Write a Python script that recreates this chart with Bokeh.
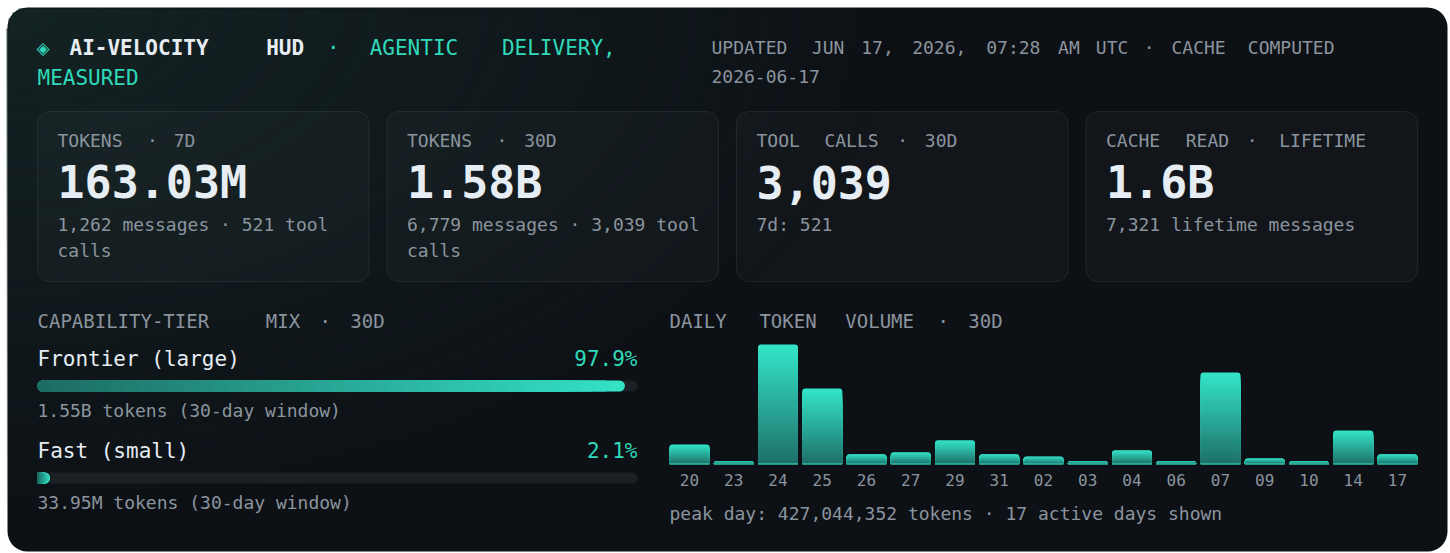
import numpy as np
from bokeh.plotting import figure
from bokeh.models import Range1d, ColumnDataSource
from bokeh.embed import file_html
from bokeh.resources import INLINE
from bokeh.core.properties import value

W, H = 1450, 553

# ---------------- data ----------------
days = ["20", "23", "24", "25", "26", "27", "29", "31", "02", "03", "04", "06", "07", "09", "10", "14", "17"]
day_tokens = [70_000_000, 11_000_000, 427_044_352, 270_000_000, 35_000_000, 42_000_000, 85_000_000,
              35_000_000, 27_000_000, 11_000_000, 49_000_000, 11_000_000, 327_000_000, 20_000_000,
              10_000_000, 120_000_000, 35_000_000]

tier_names = ["Frontier (large)", "Fast (small)"]
tier_pct = [97.9, 2.1]
tier_tokens = ["1.55B", "33.95M"]

kpi_labels = ["TOKENS · 7D", "TOKENS · 30D", "TOOL CALLS · 30D", "CACHE READ · LIFETIME"]
kpi_values = ["163.03M", "1.58B", "3,039", "1.6B"]
kpi_notes = [["1,262 messages · 521 tool", "calls"],
             ["6,779 messages · 3,039 tool", "calls"],
             ["7d: 521"],
             ["7,321 lifetime messages"]]

title_main = "AI-VELOCITY HUD"
title_tail = "· AGENTIC DELIVERY,"
title_wrap = "MEASURED"
updated_line1 = "UPDATED JUN 17, 2026, 07:28 AM UTC · CACHE COMPUTED"
updated_line2 = "2026-06-17"
section_left = "CAPABILITY-TIER MIX · 30D"
section_right = "DAILY TOKEN VOLUME · 30D"

# ---------------- style ----------------
MONO = "DejaVu Sans Mono"
BASE = "#0d1116"
TEAL = "#2fd9b9"
WHITE = "#e6edf3"
GRAY = "#8b949e"
TRACK = "#1b2025"
ADV = 0.602  # advance of DejaVu Sans Mono in em


def Y(t):
    return H - t


p = figure(width=W, height=H, x_range=Range1d(0, W), y_range=Range1d(0, H),
           output_backend="svg", toolbar_location=None, min_border=0,
           x_axis_location=None, y_axis_location=None,
           background_fill_color="white", border_fill_color="white", outline_line_color=None)
p.grid.visible = False

# ---------------- card background ----------------
p.quad(left=7, right=1447, top=Y(7), bottom=Y(551), border_radius=20, fill_color=BASE, line_color=None)

w2, h2 = W // 2, (H + 1) // 2
xs = (np.arange(w2) + 0.5) * W / w2
ys = H - (np.arange(h2) + 0.5) * H / h2
XX, YY = np.meshgrid(xs, ys)
tt = np.clip(1 - np.sqrt((XX / 900) ** 2 + (YY / 520) ** 2), 0, 1)
L, R, T, B, rr = 7, 1447, 7, 551, 20
cx = np.clip(XX, L + rr, R - rr)
cy = np.clip(YY, T + rr, B - rr)
inside = ((XX - cx) ** 2 + (YY - cy) ** 2 <= rr * rr) & (XX >= L) & (XX <= R) & (YY >= T) & (YY <= B)
img = np.zeros((h2, w2, 4), dtype=np.uint8)
img[..., 0] = 22
img[..., 1] = 40
img[..., 2] = 40
img[..., 3] = (0.8 * tt * inside * 255).astype(np.uint8)
p.image_rgba(image=[img.view(np.uint32).reshape(h2, w2)], x=0, y=0, dw=W, dh=H)


def txt(x, y, text, size, color, bold=False, align="left", xr="default", font=MONO):
    n = len(text) if isinstance(text, list) else 1
    p.text(x=x if isinstance(x, list) else [x], y=y if isinstance(y, list) else [y] * n,
           text=text if isinstance(text, list) else [text],
           text_font=value(font), text_font_size=f"{size}px", text_color=color,
           text_font_style="bold" if bold else "normal", text_align=align,
           text_baseline="middle", x_range_name=xr)


def spaced(x0, y, s, pitch, size, color, bold=False):
    """letter-spaced label: first word left aligned, later words centred on their tracked slot"""
    words = s.split(" ")
    idx = 0
    lx, lw, cxs, cws = [], [], [], []
    for k, w in enumerate(words):
        if k == 0:
            lx.append(x0)
            lw.append(w)
        else:
            cxs.append(x0 + (idx + len(w) / 2) * pitch - (pitch - ADV * size) / 2)
            cws.append(w)
        idx += len(w) + 1
    txt(lx, y, lw, size, color, bold)
    if cws:
        txt(cxs, y, cws, size, color, bold, align="center")


# ---------------- header ----------------
txt(36, Y(47.5), "◈", 17, TEAL, font="DejaVu Sans")
spaced(69, Y(47), title_main, 16.1, 21, WHITE, bold=True)
spaced(69 + 16 * 16.1, Y(47), title_tail, 16.1, 21, TEAL)
spaced(37, Y(77), title_wrap, 15.8, 21, TEAL)
spaced(711, Y(47), updated_line1, 12.35, 18, GRAY)
txt(711, Y(76), updated_line2, 18, GRAY)

# ---------------- KPI cards ----------------
card_x = [37, 386.5, 736, 1085.5]
card_w = 331.5
p.quad(left=card_x, right=[c + card_w for c in card_x], top=Y(111), bottom=Y(281), border_radius=12,
       fill_color="white", fill_alpha=0.022, line_color="white", line_alpha=0.075, line_width=1)
for cxi, lab, val, notes in zip(card_x, kpi_labels, kpi_values, kpi_notes):
    spaced(cxi + 20, Y(140), lab, 12.8, 18, GRAY)
    txt(cxi + 20, Y(182), val, 45, WHITE, bold=True)
    for k, line in enumerate(notes):
        txt(cxi + 20, Y(224 + 26 * k), line, 18, GRAY)

# ---------------- capability tier mix ----------------
spaced(37, Y(320.5), section_left, 14.1, 19, GRAY)
p.extra_x_ranges["pct"] = Range1d(-37 / 6, -37 / 6 + W / 6)   # 0..100 -> 600 px bar starting at x=37
N = 40
c0 = np.array([29, 105, 98])
c1 = np.array([52, 226, 198])
for i, (name, pct, tok) in enumerate(zip(tier_names, tier_pct, tier_tokens)):
    off = 92 * i
    txt(37, Y(358.5 + off), name, 21, WHITE)
    txt(637, Y(358.5 + off), f"{pct}%", 21, TEAL, align="right")
    p.quad(left=0, right=100, top=Y(380 + off), bottom=Y(391 + off), border_radius=6,
           fill_color=TRACK, line_color=None, x_range_name="pct")
    rights, cols = [], []
    for j in range(N - 1, -1, -1):
        f = (j + 1) / N
        rights.append(pct * f)
        c = (c0 + (c1 - c0) * f).astype(int)
        cols.append("#%02x%02x%02x" % tuple(c))
    p.quad(left=[0] * N, right=rights, top=Y(380 + off), bottom=Y(391 + off), border_radius=6,
           fill_color=cols, line_color=None, x_range_name="pct")
    txt(37, Y(409.5 + off), f"{tok} tokens (30-day window)", 18, GRAY)

# ---------------- daily token volume ----------------
spaced(669, Y(320.5), section_right, 14.1, 19, GRAY)
X0, STEP, BW = 689.0, 44.25, 40.0
BASE_Y, PEAK_Y = 463.5, 344.0
peak = max(day_tokens)
kpx = (BASE_Y - PEAK_Y) / peak
ys0 = -(H - BASE_Y) / kpx
p.extra_x_ranges["day"] = Range1d(-X0 / STEP, -X0 / STEP + W / STEP)
p.extra_y_ranges["tok"] = Range1d(ys0, ys0 + H / kpx)

NB = 30
b0 = np.array([30, 110, 104])
b1 = np.array([52, 228, 199])
lefts, rights, tops, cols = [], [], [], []
for j in range(NB - 1, -1, -1):
    f = (j + 1) / NB
    c = (b0 + (b1 - b0) * f).astype(int)
    for i, v in enumerate(day_tokens):
        lefts.append(i - BW / STEP / 2)
        rights.append(i + BW / STEP / 2)
        tops.append(v * f)
        cols.append("#%02x%02x%02x" % tuple(c))
src = ColumnDataSource(dict(left=lefts, right=rights, top=tops, bottom=[0] * len(tops), color=cols))
p.quad(left="left", right="right", top="top", bottom="bottom", fill_color="color", line_color=None,
       border_radius=(3, 3, 0, 0), source=src, x_range_name="day", y_range_name="tok")
idx = list(range(len(days)))
p.rect(x=idx, y=[0] * len(idx), width=BW / STEP, height=1.5, height_units="screen",
       fill_color="#2fbfa8", line_color=None, x_range_name="day", y_range_name="tok")
p.text(x=idx, y=[Y(479)] * len(idx), text=days, text_font=value(MONO), text_font_size="16px",
       text_color=GRAY, text_align="center", text_baseline="middle", x_range_name="day")

txt(669, Y(512.5), f"peak day: {peak:,} tokens · {len(days)} active days shown", 18, GRAY)

open("out.html", "w").write(file_html(p, INLINE))
